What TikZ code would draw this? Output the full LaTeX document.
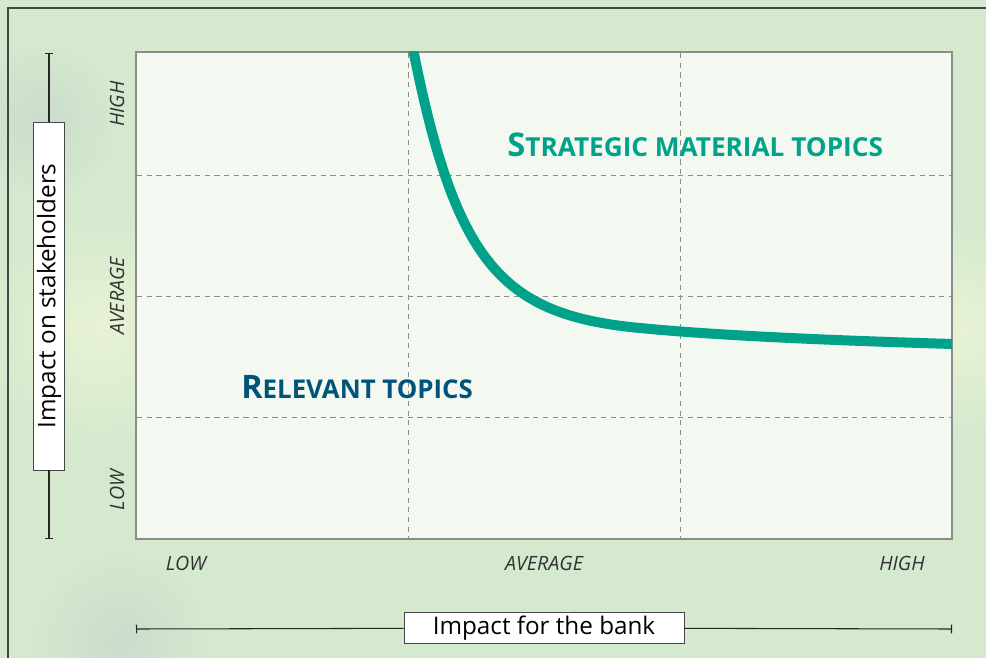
\documentclass[tikz,border=0pt]{standalone}
\usepackage{fontspec}
\setmainfont{Open Sans}
\usepackage{xcolor}
\usetikzlibrary{arrows.meta,positioning}
\definecolor{bggreen}{RGB}{212,233,206}
\definecolor{bgpale}{RGB}{232,242,212}
\definecolor{bgshade}{RGB}{202,220,204}
\definecolor{plotfill}{RGB}{243,248,241}
\definecolor{framegray}{RGB}{70,70,70}
\definecolor{gridgray}{RGB}{140,140,140}
\definecolor{curveteal}{RGB}{0,163,138}
\definecolor{relblue}{RGB}{0,84,122}
\definecolor{levelgray}{RGB}{50,50,50}

\begin{document}
\begin{tikzpicture}[
    x=0.02cm, y=-0.02cm,
    axisbox/.style={rectangle, draw=framegray, fill=white, minimum width=280*0.02cm,
    minimum height=31*0.02cm, inner sep=0pt, font=\fontsize{13.8}{15}\selectfont},
    level/.style={font=\itshape\fontsize{11.2}{13}\selectfont, text=levelgray, inner sep=0pt},
    gridline/.style={gridgray, dashed, dash pattern=on 3pt off 2.5pt, line width=0.5pt},
    bar/.style={{Bar[width=5pt]}-, line width=0.6pt, black!85},
    curve/.style={curveteal, line width=0.2cm},
    zone/.style={font=\bfseries, inner sep=0pt, anchor=base west},
    blob/.style={inner color=#1, outer color=bggreen}
]
\useasboundingbox (0,0) rectangle (986,658);
% background
\fill[bggreen] (0,0) rectangle (986,658);
\shade[blob=bgpale] (100,330) circle[radius=120];
\shade[blob=bgpale] (960,330) circle[radius=110];
\shade[blob=bgshade] (40,120) circle[radius=80];
\shade[blob=bgshade] (120,640) circle[radius=90];
\draw[framegray, line width=1.2pt] (8,658) -- (8,8) -- (986,8);

% plot area and grid
\draw[fill=plotfill, draw=gridgray, line width=0.8pt] (136,52) rectangle (952,539);
\foreach \gx in {408,680}
    \draw[gridline] (\gx,53) -- (\gx,538);
\foreach \gy in {175,296,417}
    \draw[gridline] (137,\gy) -- (951,\gy);

% curve
\begin{scope}
\clip (136,52) rectangle (952,539);
\draw[curve] (412,44) .. controls (455,262) and (500,315) .. (640,328)
    .. controls (720,336) and (850,341) .. (953,344);
\end{scope}

% zone labels
\node[zone, text=curveteal] (strat) at (507,157)
    {\fontsize{18.6}{20}\selectfont S\fontsize{14.9}{16}\selectfont TRATEGIC MATERIAL TOPICS};
\node[zone, text=relblue] (rel) at (241,398)
    {\fontsize{18.4}{20}\selectfont R\fontsize{14.7}{16}\selectfont ELEVANT TOPICS};

% level labels
\node[level, rotate=90] (yhigh) at (117,104) {HIGH};
\node[level, rotate=90] (yavg) at (117,296) {AVERAGE};
\node[level, rotate=90] (ylow) at (117,490) {LOW};
\node[level] (xlow) at (186,563) {LOW};
\node[level] (xavg) at (544,563) {AVERAGE};
\node[level] (xhigh) at (902,563) {HIGH};

% axis titles
\node[axisbox, rotate=90, minimum width=348*0.02cm] (ylab) at (49,296) {Impact on stakeholders};
\node[axisbox] (xlab) at (544,628) {Impact for the bank};
\coordinate (ytop) at (49,53);
\coordinate (ybot) at (49,539);
\coordinate (xleft) at (136,629);
\coordinate (xright) at (952,629);
\draw[bar] (ytop) -- (ylab);
\draw[bar] (ybot) -- (ylab);
\draw[bar] (xleft) -- (xlab);
\draw[bar] (xright) -- (xlab);
\end{tikzpicture}
\end{document}
